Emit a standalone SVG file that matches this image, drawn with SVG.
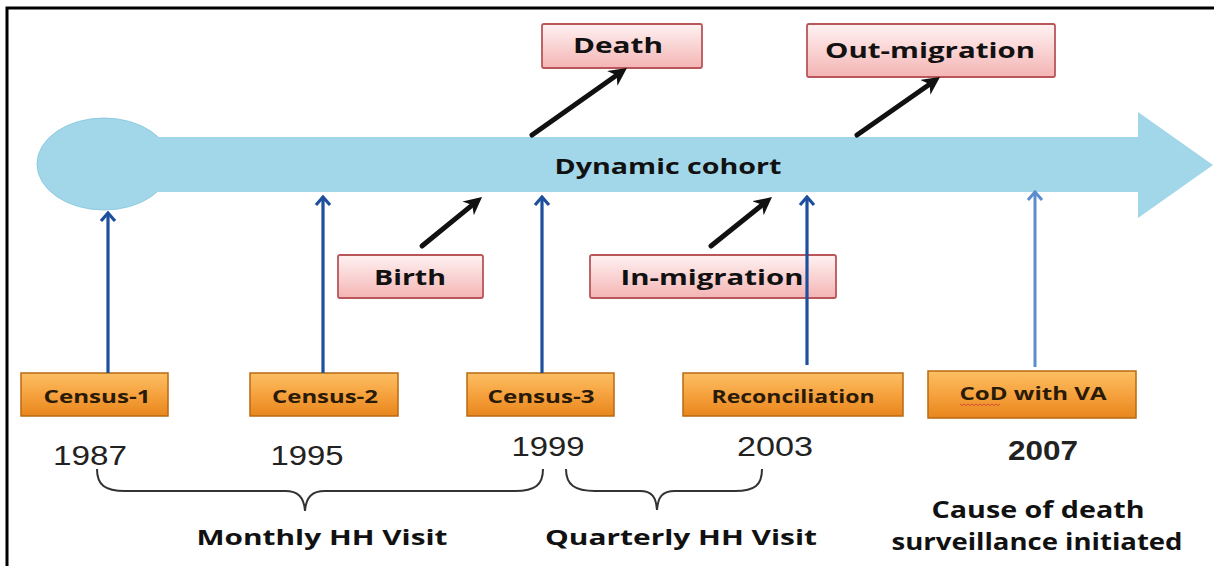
<svg xmlns="http://www.w3.org/2000/svg" width="1214" height="566" viewBox="0 0 1214 566">
<defs>
<linearGradient id="pink" x1="0" y1="0" x2="0" y2="1">
<stop offset="0" stop-color="#fff2f2"/>
<stop offset="1" stop-color="#f4b4b4"/>
</linearGradient>
<linearGradient id="orange" x1="0" y1="0" x2="0" y2="1">
<stop offset="0" stop-color="#fcbf63"/>
<stop offset="0.5" stop-color="#f6a23e"/>
<stop offset="1" stop-color="#e8861c"/>
</linearGradient>
<marker id="blk" viewBox="0 0 10 10" refX="2" refY="5" markerWidth="18" markerHeight="18" markerUnits="userSpaceOnUse" orient="auto">
<path d="M0,0 L10,5 L0,10 L3,5 z" fill="#111"/>
</marker>
<marker id="blu" viewBox="-10 -10 12 20" refX="0" refY="0" markerWidth="12" markerHeight="20" markerUnits="userSpaceOnUse" orient="auto">
<path d="M-8,-7 L0,0 L-8,7" fill="none" stroke="#1d4f9c" stroke-width="3.2" stroke-linejoin="miter"/>
</marker>
<marker id="lblu" viewBox="-10 -10 12 20" refX="0" refY="0" markerWidth="12" markerHeight="20" markerUnits="userSpaceOnUse" orient="auto">
<path d="M-8,-7 L0,0 L-8,7" fill="none" stroke="#5c8ccb" stroke-width="3" stroke-linejoin="miter"/>
</marker>
</defs>
<style>
.pk{fill:url(#pink);stroke:#b8565a;stroke-width:1.8}
.or{fill:url(#orange);stroke:#b96a12;stroke-width:1.5}
.lbl{font-family:"Open Sans","Noto Sans",sans-serif;font-weight:bold;fill:#111;text-anchor:middle}
.cen{font-family:"Open Sans","Noto Sans",sans-serif;font-weight:bold;fill:#2a1a08;text-anchor:middle;font-size:17px}
.yr{font-family:"Liberation Sans",Arial,sans-serif;fill:#222;text-anchor:middle;font-size:28px}
.bl{stroke:#111;stroke-width:5;fill:none;stroke-linecap:round;marker-end:url(#blk)}
.ba{stroke:#1d4f9c;stroke-width:3.2;fill:none;marker-end:url(#blu)}
.lba{stroke:#5c8ccb;stroke-width:3;fill:none;marker-end:url(#lblu)}
.br{stroke:#333;stroke-width:2;fill:none}
</style>
<rect x="0" y="0" width="1214" height="566" fill="#fff"/>
<path d="M1214,8 L7,8 L7,566" fill="none" stroke="#000" stroke-width="3"/>

<g id="cohort">
<ellipse cx="104" cy="164" rx="67" ry="46" fill="#a2d7ea" stroke="#8fcbe0" stroke-width="1"/>
<path d="M150,137 L1138,137 L1138,112 L1213,165 L1138,218 L1138,192 L150,192 z" fill="#a2d7ea"/>
<text class="lbl" x="668" y="174" font-size="22" textLength="227" lengthAdjust="spacingAndGlyphs">Dynamic cohort</text>
</g>

<g id="death">
<rect class="pk" x="542" y="24" width="160" height="44" rx="2"/>
<text class="lbl" x="618" y="53" font-size="22" textLength="90" lengthAdjust="spacingAndGlyphs">Death</text>
</g>
<g id="outmigration">
<rect class="pk" x="807" y="24" width="248" height="53" rx="2"/>
<text class="lbl" x="930" y="58" font-size="22" textLength="210" lengthAdjust="spacingAndGlyphs">Out-migration</text>
</g>
<g id="birth">
<rect class="pk" x="338" y="255" width="145" height="43" rx="2"/>
<text class="lbl" x="410" y="285" font-size="21" textLength="72" lengthAdjust="spacingAndGlyphs">Birth</text>
</g>
<g id="inmigration">
<rect class="pk" x="590" y="255" width="246" height="43" rx="2"/>
<text class="lbl" x="712" y="285" font-size="21" textLength="183" lengthAdjust="spacingAndGlyphs">In-migration</text>
</g>

<g id="census1">
<rect class="or" x="21" y="373" width="147" height="43"/>
<text class="cen" x="97" y="403" textLength="107" lengthAdjust="spacingAndGlyphs">Census-1</text>
<text class="yr" x="90" y="465" textLength="74" lengthAdjust="spacingAndGlyphs">1987</text>
</g>
<g id="census2">
<rect class="or" x="250" y="373" width="148" height="43"/>
<text class="cen" x="325" y="403" textLength="106" lengthAdjust="spacingAndGlyphs">Census-2</text>
<text class="yr" x="307" y="465" textLength="73" lengthAdjust="spacingAndGlyphs">1995</text>
</g>
<g id="census3">
<rect class="or" x="467" y="373" width="147" height="43"/>
<text class="cen" x="541" y="403" textLength="107" lengthAdjust="spacingAndGlyphs">Census-3</text>
<text class="yr" x="548" y="456" textLength="73" lengthAdjust="spacingAndGlyphs">1999</text>
</g>
<g id="reconciliation">
<rect class="or" x="683" y="373" width="220" height="43"/>
<text class="cen" x="793" y="403" textLength="163" lengthAdjust="spacingAndGlyphs">Reconciliation</text>
<text class="yr" x="775" y="456" textLength="76" lengthAdjust="spacingAndGlyphs">2003</text>
</g>
<g id="cod">
<rect class="or" x="928" y="371" width="208" height="47"/>
<text class="cen" x="1033" y="400" fill="#111" textLength="147" lengthAdjust="spacingAndGlyphs">CoD with VA</text>
<path d="M960,404 l2,1.5 l2,-1.5 l2,1.5 l2,-1.5 l2,1.5 l2,-1.5 l2,1.5 l2,-1.5 l2,1.5 l2,-1.5 l2,1.5 l2,-1.5 l2,1.5 l2,-1.5 l2,1.5 l2,-1.5 l2,1.5 l2,-1.5 l2,1.5 l2,-1.5" fill="none" stroke="#d23a3a" stroke-width="0.8"/>
<text class="yr" x="1043" y="460" font-weight="bold" fill="#111" textLength="70" lengthAdjust="spacingAndGlyphs">2007</text>
</g>

<g id="monthly">
<path class="br" d="M97,469 C97,485 105,491 125,491 L285,491 C298,491 304,497 305,511 C306,497 312,491 325,491 L515,491 C535,491 543,485 543,469"/>
<text class="lbl" x="322" y="545" font-size="21" fill="#222" textLength="251" lengthAdjust="spacingAndGlyphs">Monthly HH Visit</text>
</g>
<g id="quarterly">
<path class="br" d="M566,469 C566,485 575,491 595,491 L640,491 C652,491 656,497 657,510 C658,497 662,491 675,491 L735,491 C755,491 762,485 762,469"/>
<text class="lbl" x="681" y="545" font-size="21" fill="#222" textLength="272" lengthAdjust="spacingAndGlyphs">Quarterly HH Visit</text>
</g>
<g id="cause">
<text class="lbl" x="1038" y="518" font-size="24" textLength="213" lengthAdjust="spacingAndGlyphs">Cause of death</text>
<text class="lbl" x="1037" y="550" font-size="24" textLength="291" lengthAdjust="spacingAndGlyphs">surveillance initiated</text>
</g>

<g id="connectors">
<line class="bl" x1="532" y1="135" x2="615.2" y2="76.3"/>
<line class="bl" x1="857" y1="135" x2="928.2" y2="85.2"/>
<line class="bl" x1="422" y1="246" x2="470.9" y2="206.1"/>
<line class="bl" x1="711" y1="246" x2="760.8" y2="206.0"/>
<line class="ba" x1="108" y1="373" x2="108" y2="213"/>
<line class="ba" x1="323" y1="373" x2="323" y2="197"/>
<line class="ba" x1="542" y1="373" x2="542" y2="197"/>
<line class="ba" x1="807" y1="365" x2="807" y2="197"/>
<line class="lba" x1="1035" y1="367" x2="1035" y2="192"/>
</g>
</svg>
